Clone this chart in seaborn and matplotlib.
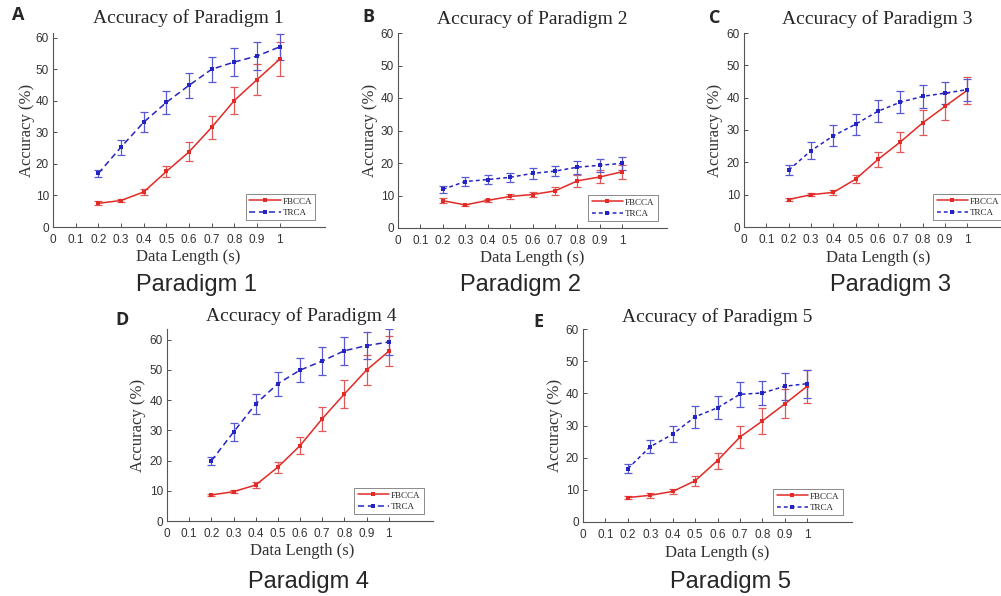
import matplotlib
matplotlib.use("Agg")
import matplotlib.pyplot as plt
import seaborn as sns
import pandas as pd

# data length (s) on the x axis
lengths = [0.2, 0.3, 0.4, 0.5, 0.6, 0.7, 0.8, 0.9, 1.0]
x_ticks = [0, 0.1, 0.2, 0.3, 0.4, 0.5, 0.6, 0.7, 0.8, 0.9, 1.0]
x_tick_labels = ['0', '0.1', '0.2', '0.3', '0.4', '0.5', '0.6', '0.7', '0.8', '0.9', '1']
y_ticks = [0, 10, 20, 30, 40, 50, 60]

# accuracy (%) mean and error bar half-widths
fbcca_1 = [7.5, 8.4, 11.1, 17.6, 23.8, 31.6, 40.1, 46.7, 53.2]
fbcca_1_err = [0.6, 0.5, 0.9, 1.8, 3.0, 3.6, 4.3, 4.9, 5.4]
trca_1 = [17.0, 25.3, 33.2, 39.5, 44.9, 50.0, 52.3, 54.2, 57.1]
trca_1_err = [1.2, 2.4, 3.2, 3.6, 3.9, 4.0, 4.3, 4.3, 4.2]

fbcca_2 = [8.4, 7.1, 8.5, 9.7, 10.3, 11.4, 14.5, 15.7, 17.3]
fbcca_2_err = [0.7, 0.4, 0.5, 0.8, 0.9, 1.3, 1.8, 2.0, 2.1]
trca_2 = [11.9, 14.3, 14.9, 15.6, 16.8, 17.5, 18.7, 19.3, 19.9]
trca_2_err = [1.0, 1.3, 1.5, 1.4, 1.7, 1.5, 2.0, 2.0, 2.0]

fbcca_3 = [8.5, 10.0, 10.7, 14.8, 20.9, 26.3, 32.2, 37.3, 42.3]
fbcca_3_err = [0.5, 0.4, 0.7, 1.2, 2.3, 3.1, 3.9, 4.1, 4.2]
trca_3 = [17.6, 23.6, 28.2, 31.8, 35.8, 38.6, 40.4, 41.4, 42.5]
trca_3_err = [1.5, 2.6, 3.3, 3.3, 3.4, 3.4, 3.6, 3.4, 3.4]

fbcca_4 = [8.6, 9.7, 11.9, 17.8, 24.9, 33.8, 42.0, 49.9, 56.1]
fbcca_4_err = [0.4, 0.6, 1.1, 1.8, 2.8, 3.9, 4.5, 5.0, 5.0]
trca_4 = [19.9, 29.4, 38.7, 45.4, 49.9, 52.9, 56.3, 58.0, 59.2]
trca_4_err = [1.4, 3.0, 3.3, 3.9, 4.0, 4.6, 4.6, 4.5, 4.3]

fbcca_5 = [7.6, 8.3, 9.5, 12.8, 19.1, 26.4, 31.4, 36.7, 42.2]
fbcca_5_err = [0.5, 0.7, 0.9, 1.6, 2.5, 3.5, 4.0, 4.5, 5.2]
trca_5 = [16.6, 23.4, 27.3, 32.7, 35.5, 39.7, 40.1, 42.2, 43.0]
trca_5_err = [1.5, 2.0, 2.5, 3.5, 3.6, 3.8, 3.8, 4.2, 4.3]

W, H = 1001, 596
RED = '#e22a26'
BLUE = '#2424c2'
RED_ERR = '#e05858'
BLUE_ERR = '#5858d2'

sns.set_style('ticks')
plt.rcParams['font.family'] = ['Liberation Sans', 'DejaVu Sans']
plt.rcParams['axes.linewidth'] = 0.8

fig = plt.figure(figsize=(W / 100, H / 100), dpi=100)

# (letter, index, fbcca, fbcca_err, trca, trca_err, box in px [left, right, top, bottom], ymax, trca dashes,
#  letter xy, title xy, xlabel xy, ylabel xy, caption xy)
panels = [
    ('A', 1, fbcca_1, fbcca_1_err, trca_1, trca_1_err, (53, 325, 33, 227), 61.5, (4, 2.5),
     (18, 15), (188, 18), (188, 257), (27, 130), (197, 285)),
    ('B', 2, fbcca_2, fbcca_2_err, trca_2, trca_2_err, (398, 667, 33, 228), 60, (2.5, 2),
     (368, 17), (532, 19), (532, 258), (370, 130), (520, 285)),
    ('C', 3, fbcca_3, fbcca_3_err, trca_3, trca_3_err, (744, 1012, 33, 227), 60, (2.5, 2),
     (715, 18), (877, 19), (878, 258), (715, 130), (891, 285)),
    ('D', 4, fbcca_4, fbcca_4_err, trca_4, trca_4_err, (167, 433, 329, 521), 63.5, (4, 2.5),
     (122, 320), (301, 316), (302, 551), (138, 425), (308, 582)),
    ('E', 5, fbcca_5, fbcca_5_err, trca_5, trca_5_err, (583, 852, 329, 522), 60, (2.5, 2),
     (538, 322), (717, 317), (717, 553), (555, 425), (731, 582)),
]

serif = ['Liberation Serif', 'DejaVu Serif']

for (letter, idx, fb, fb_err, tr, tr_err, box, ymax, dash,
     letter_xy, title_xy, xlabel_xy, ylabel_xy, caption_xy) in panels:
    left, right, top, bottom = box
    ax = fig.add_axes([left / W, 1 - bottom / H, (right - left) / W, (bottom - top) / H])

    df = pd.DataFrame({'Data Length': lengths, 'FBCCA': fb, 'TRCA': tr})

    ax.errorbar(lengths, fb, yerr=fb_err, fmt='none', ecolor=RED_ERR, elinewidth=0.9,
                capsize=2.8, capthick=0.9, zorder=2)
    ax.errorbar(lengths, tr, yerr=tr_err, fmt='none', ecolor=BLUE_ERR, elinewidth=0.9,
                capsize=2.8, capthick=0.9, zorder=2)
    sns.lineplot(data=df, x='Data Length', y='FBCCA', color=RED, marker='s', markersize=3.5,
                 markeredgewidth=0, linewidth=1.1, label='FBCCA', ax=ax, zorder=3)
    sns.lineplot(data=df, x='Data Length', y='TRCA', color=BLUE, marker='s', markersize=3.5,
                 markeredgewidth=0, linewidth=1.1, linestyle=(0, dash), label='TRCA', ax=ax, zorder=3)

    ax.set_xlim(0, 1.2)
    ax.set_ylim(0, ymax)
    ax.set_xticks(x_ticks)
    ax.set_xticklabels(x_tick_labels)
    ax.set_yticks(y_ticks)
    ax.tick_params(direction='in', length=3, width=0.6, labelsize=8.5, colors='#333333',
                   labelcolor='#333333', pad=3)
    ax.tick_params(axis='x', pad=5)
    for side in ['top', 'right']:
        ax.spines[side].set_visible(False)
    for side in ['left', 'bottom']:
        ax.spines[side].set_color('#555555')
    ax.set_xlabel('')
    ax.set_ylabel('')

    leg = ax.legend(loc='lower right', bbox_to_anchor=(0.965, 0.035), frameon=True, fancybox=False,
                    framealpha=1, edgecolor='#777777', handlelength=3.5, handletextpad=0.2,
                    borderpad=0.35, labelspacing=0.35, borderaxespad=0,
                    prop={'family': serif, 'size': 6.5})
    leg.get_frame().set_linewidth(0.6)

    fig.text(title_xy[0] / W, 1 - title_xy[1] / H, f'Accuracy of Paradigm {idx}',
             family=serif, fontsize=14, ha='center', va='center')
    fig.text(xlabel_xy[0] / W, 1 - xlabel_xy[1] / H, 'Data Length (s)',
             family=serif, fontsize=12, ha='center', va='center', color='#333333')
    fig.text(ylabel_xy[0] / W, 1 - ylabel_xy[1] / H, 'Accuracy (%)', rotation=90,
             family=serif, fontsize=12, ha='center', va='center', color='#333333')
    fig.text(caption_xy[0] / W, 1 - caption_xy[1] / H, f'Paradigm {idx}',
             fontsize=17, ha='center', va='center')
    fig.text(letter_xy[0] / W, 1 - letter_xy[1] / H, letter,
             family=['Open Sans', 'DejaVu Sans'], fontweight='bold', fontsize=13,
             ha='center', va='center')

fig.savefig('out.png', dpi=100)
